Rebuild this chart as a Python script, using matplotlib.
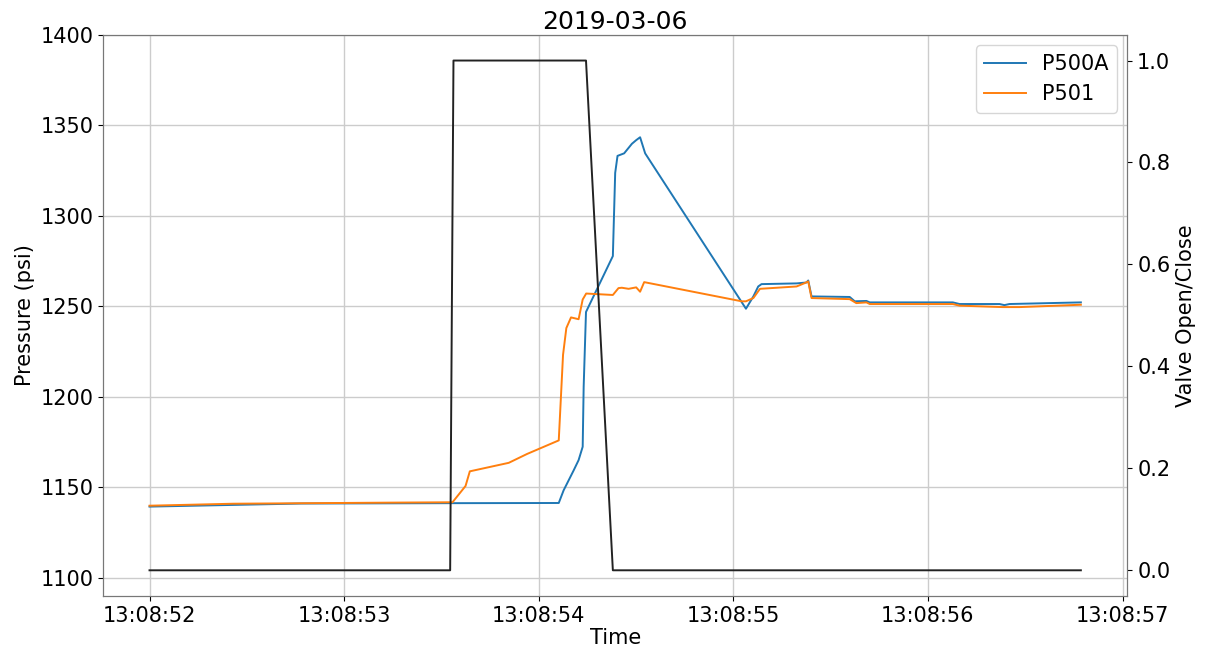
import matplotlib
matplotlib.use("Agg")
import matplotlib.pyplot as plt
import matplotlib.dates as mdates
import pandas as pd

# seconds after 13:08:52 for each sample, and the sampled values
START = "2019-03-06 13:08:52"

t_p500a = [0.0, 0.78, 1.55, 2.103, 2.128, 2.179, 2.205, 2.226, 2.231, 2.243,
           2.381, 2.393, 2.405, 2.439, 2.479, 2.501, 2.521, 2.547, 3.065, 3.103,
           3.128, 3.145, 3.325, 3.376, 3.385, 3.402, 3.598, 3.624, 3.684, 3.701,
           4.128, 4.162, 4.368, 4.393, 4.419, 4.786]
p500a = [1139.3, 1141.0, 1141.2, 1141.3, 1148.3, 1159.2, 1165.0, 1172.4, 1205.5, 1246.9,
         1277.8, 1323.8, 1333.2, 1334.6, 1339.9, 1341.9, 1343.5, 1334.6, 1248.7, 1255.5,
         1261.0, 1262.3, 1262.7, 1263.2, 1264.3, 1255.5, 1255.2, 1252.8, 1253.0, 1252.2,
         1252.2, 1251.3, 1251.3, 1250.7, 1251.3, 1252.2]

t_p501 = [0.0, 0.43, 1.24, 1.557, 1.624, 1.646, 1.846, 1.94, 2.103, 2.125,
          2.142, 2.166, 2.205, 2.226, 2.244, 2.381, 2.41, 2.427, 2.462, 2.501,
          2.521, 2.542, 3.043, 3.065, 3.103, 3.137, 3.325, 3.368, 3.385, 3.402,
          3.598, 3.632, 3.684, 3.701, 4.128, 4.162, 4.385, 4.47, 4.786]
p501 = [1139.8, 1140.9, 1141.5, 1141.7, 1150.7, 1158.8, 1163.5, 1168.4, 1175.9, 1223.2,
        1238.0, 1243.9, 1242.9, 1253.8, 1257.1, 1256.3, 1260.1, 1260.3, 1259.7, 1260.5,
        1258.1, 1263.4, 1252.8, 1252.8, 1254.6, 1259.7, 1261.0, 1262.9, 1263.8, 1254.6,
        1254.0, 1251.8, 1252.2, 1251.3, 1251.3, 1250.4, 1249.6, 1249.6, 1250.9]

t_valve = [0.0, 1.545, 1.562, 2.243, 2.381, 4.786]
valve = [0, 0, 1, 1, 0, 0]


def to_time(secs):
    return pd.Timestamp(START) + pd.to_timedelta(secs, unit="s")


fig, ax = plt.subplots(figsize=(12.11, 6.49), dpi=100)
fig.subplots_adjust(left=0.085, right=0.931, top=0.946, bottom=0.082)

ax.plot(to_time(t_p500a), p500a, color="#1f77b4", lw=1.4, label="P500A")
ax.plot(to_time(t_p501), p501, color="#ff7f0e", lw=1.4, label="P501")
ax.set_ylim(1090, 1400)
ax.set_xlabel("Time", fontsize=15, labelpad=2)
ax.set_ylabel("Pressure (psi)", fontsize=15)
ax.set_title("2019-03-06", fontsize=18, pad=4)
ax.grid(True, color="#cccccc", lw=1)
ax.xaxis.set_major_locator(mdates.SecondLocator())
ax.xaxis.set_major_formatter(mdates.DateFormatter("%H:%M:%S"))
ax.tick_params(labelsize=15)
ax.legend(loc="upper right", fontsize=15)

ax2 = ax.twinx()
ax2.plot(to_time(t_valve), valve, color="#222222", lw=1.4)
ax2.set_ylabel("Valve Open/Close", fontsize=15)
ax2.tick_params(labelsize=15)

for a in (ax, ax2):
    for s in a.spines.values():
        s.set_color("#777777")

fig.savefig("out.png", dpi=100)
